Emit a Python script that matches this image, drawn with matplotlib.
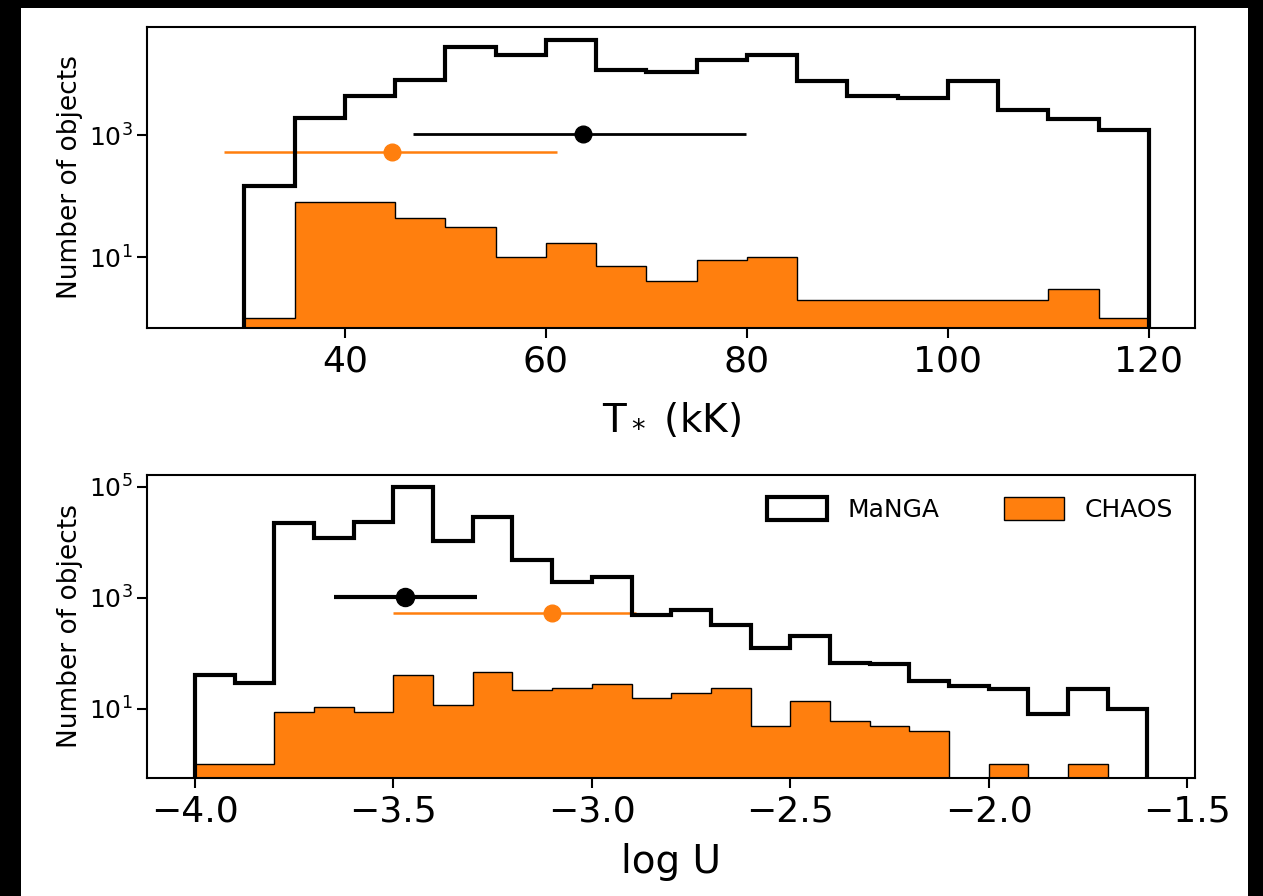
import matplotlib.pyplot as plt
import numpy as np
from matplotlib.patches import Patch, Rectangle
from matplotlib.ticker import NullLocator

orange = "#ff7f0e"

# T* histogram (kK), 5 kK bins
t_edges = np.arange(30, 121, 5)
t_manga = [146, 1900, 4400, 7950, 27600, 20600, 36000, 11700, 10900,
           17000, 20600, 7700, 4400, 4100, 7700, 2570, 1810, 1210]
t_chaos = [1, 80, 80, 44, 31, 10, 17, 7, 4, 9, 10, 2, 2, 2, 2, 2, 3, 1]

# log U histogram, 0.1 dex bins
u_edges = np.linspace(-4.0, -1.6, 25)
u_manga = [41, 29, 22400, 12000, 23400, 100000, 10700, 28700, 4800, 1950,
           2400, 490, 610, 330, 126, 207, 67, 64, 32, 26, 23, 8, 23, 10]
u_chaos = [1, 1, 9, 11, 9, 41, 12, 46, 22, 24, 28, 16, 19, 24, 5, 14, 6,
           5, 4, 0, 1, 0, 1, 0]

# mean +- spread markers
t_manga_mean, t_manga_err, t_manga_y = 63.7, [[16.9], [16.2]], 1040
t_chaos_mean, t_chaos_err, t_chaos_y = 44.7, [[16.7], [16.4]], 525
u_manga_mean, u_manga_err, u_manga_y = -3.47, [[0.18], [0.18]], 1050
u_chaos_mean, u_chaos_err, u_chaos_y = -3.10, [[0.40], [0.21]], 537

fig = plt.figure(figsize=(12.63, 8.96), dpi=100, facecolor="black")
fig.add_artist(Rectangle((21 / 1263, 0), 1227 / 1263, 1 - 8 / 896,
                         transform=fig.transFigure, facecolor="white",
                         edgecolor="none", zorder=-1))

ax1 = fig.add_axes([0.1164, 0.6339, 0.8298, 0.3359])
ax2 = fig.add_axes([0.1164, 0.1317, 0.8298, 0.3382])

# top panel
ax1.stairs(t_chaos, t_edges, fill=True, facecolor=orange, edgecolor="black",
           linewidth=1, zorder=1)
ax1.stairs(t_manga, t_edges, color="black", linewidth=3, zorder=2)
ax1.errorbar(t_chaos_mean, t_chaos_y, xerr=t_chaos_err, fmt="o", color=orange,
             ms=12, elinewidth=1.8, zorder=1.5)
ax1.errorbar(t_manga_mean, t_manga_y, xerr=t_manga_err, fmt="o", color="black",
             ms=12, elinewidth=2, zorder=1.5)
ax1.set_yscale("log")
ax1.set_xlim(20.3, 124.6)
ax1.set_ylim(0.686, 58900)
ax1.set_xticks([40, 60, 80, 100, 120])
ax1.set_yticks([10, 1000])
ax1.set_xlabel("T$_*$ (kK)", fontsize=28, labelpad=16)
ax1.set_ylabel("Number of objects", fontsize=19)

# bottom panel
ax2.stairs(u_chaos, u_edges, fill=True, facecolor=orange, edgecolor="black",
           linewidth=1, zorder=1)
ax2.stairs(u_manga, u_edges, color="black", linewidth=3, zorder=2)
ax2.errorbar(u_manga_mean, u_manga_y, xerr=u_manga_err, fmt="o", color="black",
             ms=13, elinewidth=3, zorder=1.5)
ax2.errorbar(u_chaos_mean, u_chaos_y, xerr=u_chaos_err, fmt="o", color=orange,
             ms=12, elinewidth=1.8, zorder=1.5)
ax2.set_yscale("log")
ax2.set_xlim(-4.121, -1.48)
ax2.set_ylim(0.571, 164000)
ax2.set_xticks([-4.0, -3.5, -3.0, -2.5, -2.0, -1.5])
ax2.set_yticks([10, 1000, 100000])
ax2.set_xlabel("log U", fontsize=28, labelpad=10)
ax2.set_ylabel("Number of objects", fontsize=19)

handles = [Patch(facecolor="white", edgecolor="black", linewidth=3, label="MaNGA"),
           Patch(facecolor=orange, edgecolor="black", linewidth=1, label="CHAOS")]
ax2.legend(handles=handles, loc="upper right", ncol=2, frameon=False,
           fontsize=18, handlelength=2.4, handleheight=1.0, columnspacing=2.6)

for ax in (ax1, ax2):
    ax.yaxis.set_minor_locator(NullLocator())
    ax.tick_params(axis="x", labelsize=26, length=7, width=1.5, pad=5)
    ax.tick_params(axis="y", labelsize=18, length=7, width=1.5)
    for s in ax.spines.values():
        s.set_linewidth(1.5)

fig.savefig("out.png", dpi=100)
